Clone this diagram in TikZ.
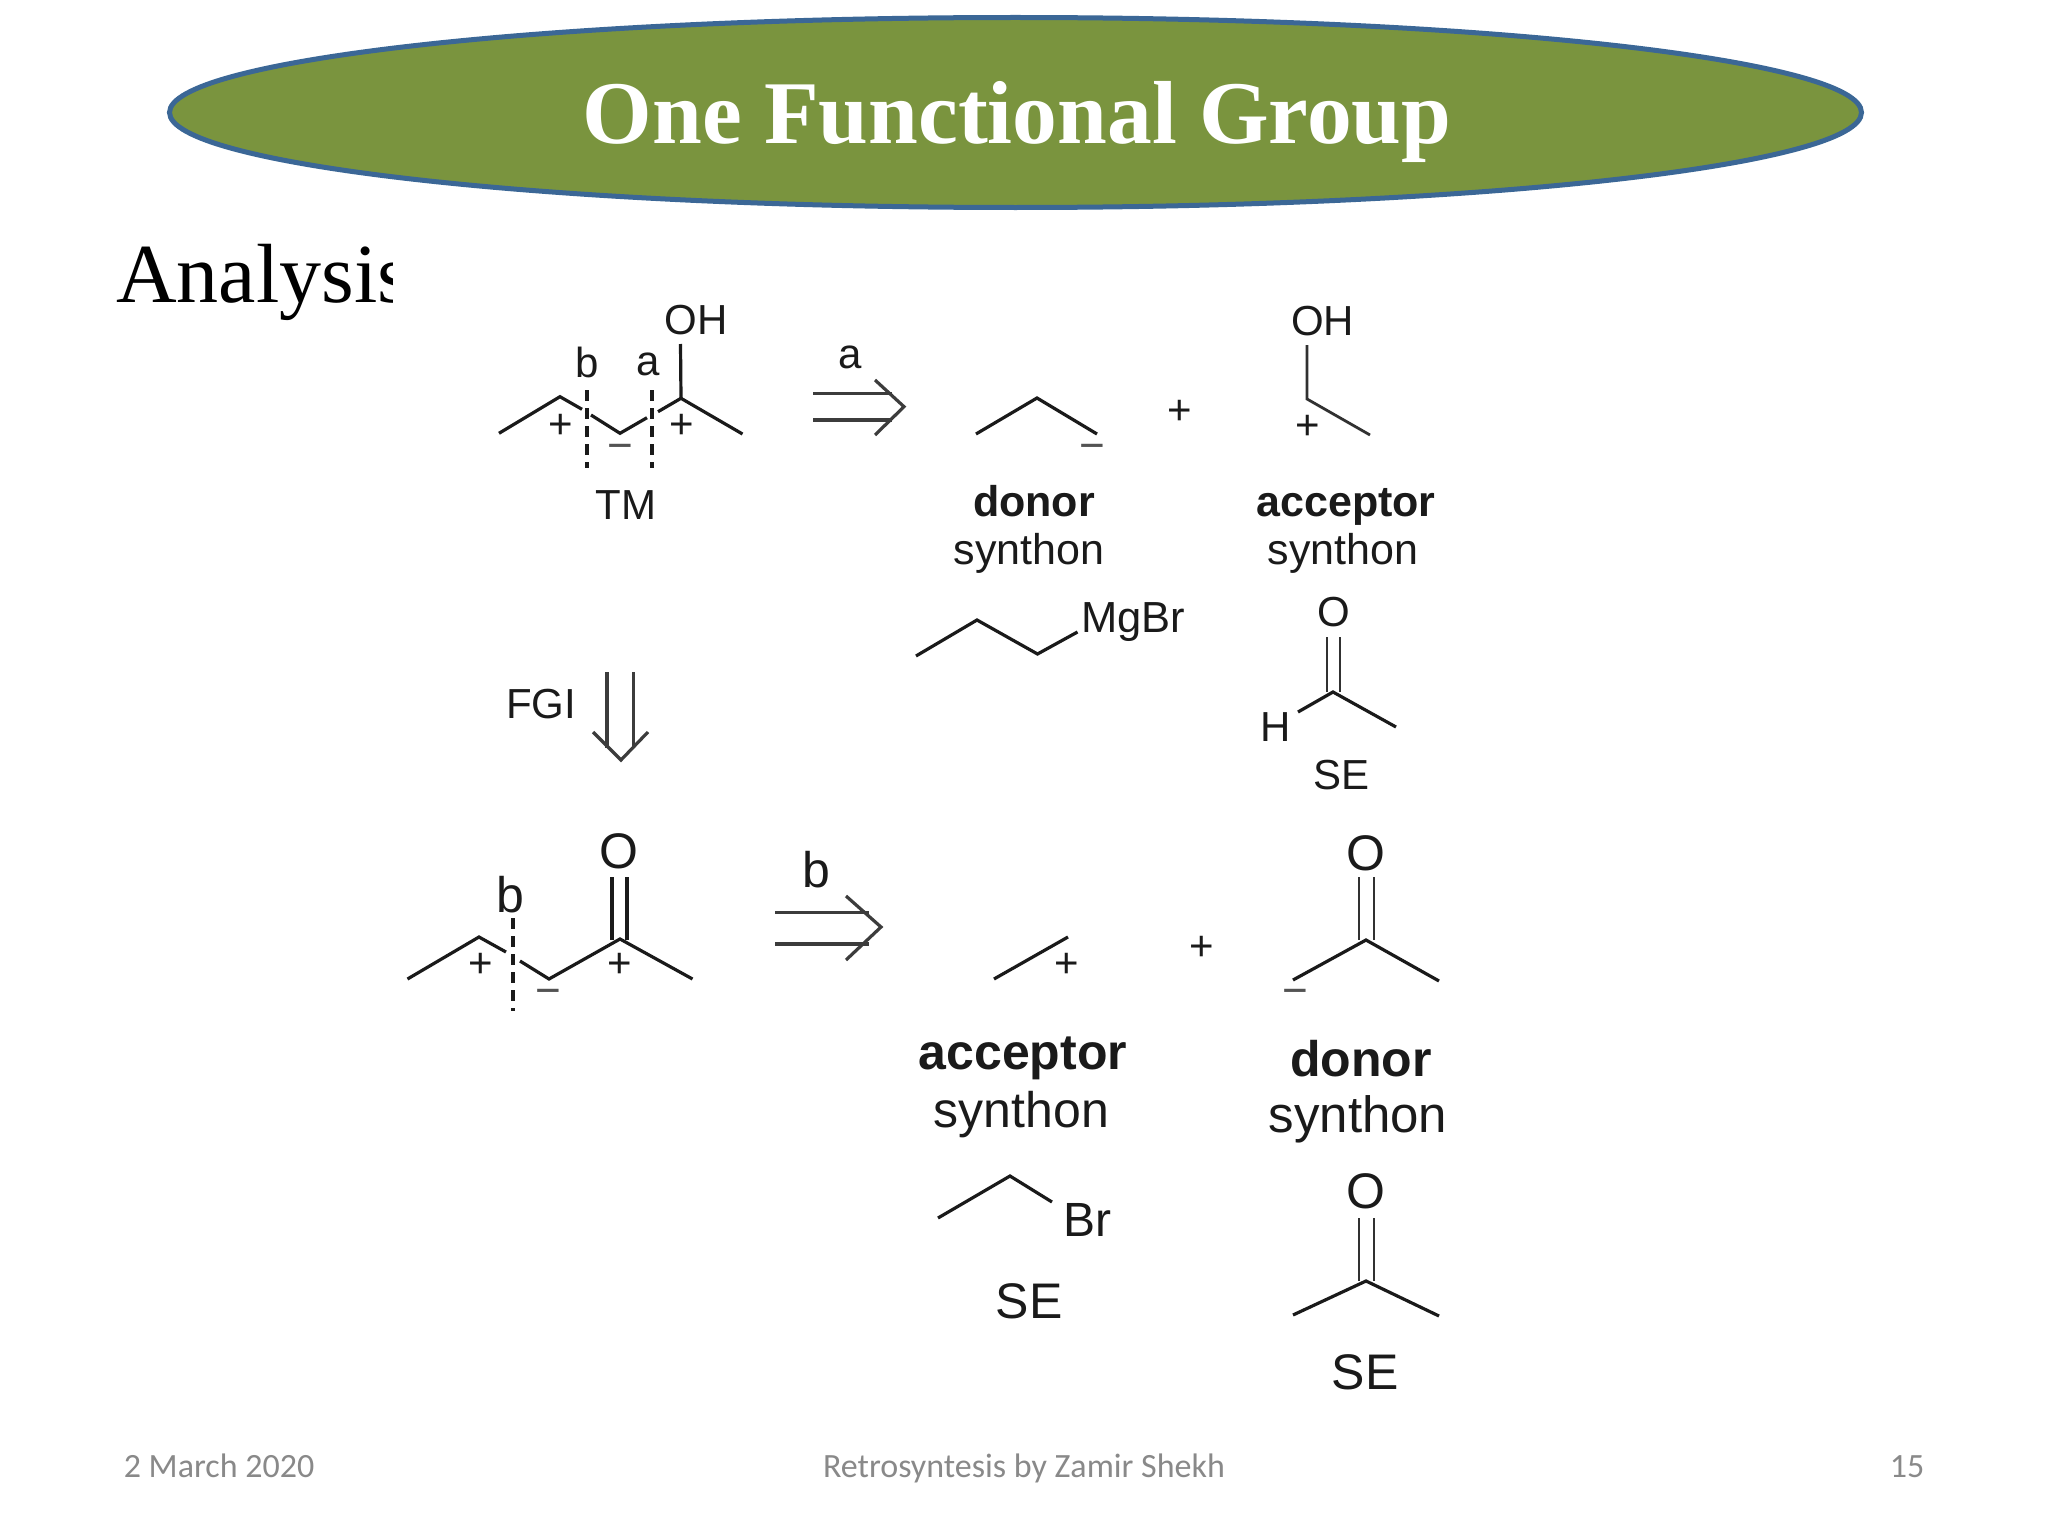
\documentclass[tikz,border=0pt]{standalone}
\usepackage{fontspec}
\usetikzlibrary{shapes.geometric}
\setmainfont{Liberation Serif}
\setsansfont{Liberation Sans}
\newfontfamily\footfont{Carlito}
\definecolor{olivefill}{HTML}{7A943E}
\definecolor{blueedge}{HTML}{3B6796}
\definecolor{footgray}{HTML}{898989}
\definecolor{ink}{HTML}{1A1A1A}
\newcommand{\fsz}[1]{\fontsize{#1}{#1}\selectfont}
\tikzset{
  bond/.style={draw=ink,line width=3.2pt,line cap=butt,line join=miter},
  thinbond/.style={draw=ink!90,line width=2.8pt},
  cut/.style={draw=ink,line width=3.4pt,dash pattern=on 11pt off 7pt},
  lab/.style={inner sep=0pt,text=ink,font=\sffamily\fsz{42}},
  big/.style={inner sep=0pt,text=ink,font=\sffamily\fsz{50}},
  chg/.style={inner sep=0pt,text=ink,font=\sffamily\fsz{42},xshift=1pt,yshift=-2pt},
  mns/.style={inner sep=0pt,text=ink!75,font=\sffamily\fsz{44},yshift=-5pt},
  boldlab/.style={inner sep=0pt,text=ink,font=\sffamily\bfseries\fsz{43}},
  boldbig/.style={inner sep=0pt,text=ink,font=\sffamily\bfseries\fsz{50}},
  foot/.style={inner sep=0pt,anchor=base,text=footgray,font=\footfont\fsz{34}},
  retro/.style={draw=ink!85,line width=3.2pt},
}
\begin{document}
\begin{tikzpicture}[x=1pt,y=-1pt]
\fill[white] (0,0) rectangle (2048,1536);
\useasboundingbox (0,0) rectangle (2048,1536);
% title
\node[ellipse,minimum width=1692pt,minimum height=190pt,draw=blueedge,line width=5pt,fill=olivefill,inner sep=0pt] (banner) at (1015.5,112.5) {};
\node[inner sep=0pt,text=white,font=\rmfamily\bfseries\fsz{89.5}] (title) at (1017,122) {One Functional Group};
% Analysis (cut off at its right end)
\begin{scope}
\clip (100,220) rectangle (392,330);
\node[inner sep=0pt,anchor=base west,text=black,font=\rmfamily\fsz{84}] (analysis) at (116,302) {Analysis};
\end{scope}
% TM
\draw[bond] (499,433.3) -- (560,396.7) -- (582,409.3);
\draw[bond] (591,415) -- (620,433.3) -- (647,417.7);
\draw[bond] (658,411.7) -- (681,398.3) -- (742.5,434);
\draw[bond] (680.5,344) -- (681,398.3);
\draw[cut] (587,390) -- (587,468);
\draw[cut] (652,390) -- (652,468);
\node[lab] (oh1) at (696,320) {OH};
\node[lab] (b1) at (587,362) {b};
\node[lab] (a1) at (648,364) {a};
\node[chg] (p1) at (560,424) {+};
\node[chg] (p2) at (681,424) {+};
\node[mns] (m1) at (620,447) {−};
\node[lab] (tm) at (626,505) {TM};
% arrow a
\draw[retro] (813,393.3) -- (892,393.3);
\draw[retro] (813,420) -- (892,420);
\draw[retro] (875,380) -- (904,406.7) -- (875,435);
\node[lab] (a2) at (850,357) {a};
% donor synthon top
\draw[bond] (976,434) -- (1037,398) -- (1097,434);
\node[mns] (m2) at (1092,447) {−};
\node[chg] (p3) at (1178.6,410) {+};
\draw[thinbond] (1307,345) -- (1307,399) -- (1370,435);
\node[lab] (oh2) at (1322.5,321) {OH};
\node[chg] (p4) at (1307,425) {+};
\node[boldlab] (don1) at (1034,501) {donor};
\node[inner sep=0pt,text=ink,font=\sffamily\fsz{43}] (syn1) at (1029,553.5) {synthon};
\node[boldlab] (acc1) at (1346,506.5) {acceptor};
\node[inner sep=0pt,text=ink,font=\sffamily\fsz{43}] (syn2) at (1343,553.5) {synthon};
% MgBr
\draw[bond] (916,656) -- (977,620) -- (1037.5,654) -- (1077.5,632);
\node[inner sep=0pt,text=ink,font=\sffamily\fsz{43.5},anchor=west] (mgbr) at (1081,622.5) {MgBr};
% aldehyde
\draw[thinbond] (1327,637) -- (1327,692);
\draw[thinbond] (1340,637) -- (1340,692);
\draw[bond] (1298,712) -- (1333,692) -- (1396,727);
\node[lab] (o1) at (1334,612) {O};
\node[lab] (h1) at (1276,727) {H};
\node[lab] (se1) at (1341,775) {SE};
% FGI
\node[lab] (fgi) at (541,704) {FGI};
\draw[retro] (607,672) -- (607,748);
\draw[retro] (633.6,672) -- (633.6,748);
\draw[retro] (593,732) -- (621,760) -- (648,732);
% ketone row
\draw[bond] (407.5,979) -- (479,937) -- (506,952);
\draw[bond] (520,961) -- (549,979) -- (620,939) -- (692.5,979);
\draw[bond] (612,877) -- (612,940);
\draw[bond] (627,877) -- (627,940);
\draw[cut] (513,918) -- (513,1011);
\node[big] (o2) at (619,851) {O};
\node[big] (b2) at (510.7,895) {b};
\node[chg] (p5) at (480,963) {+};
\node[chg] (p6) at (619,963) {+};
\node[mns] (m3) at (548.6,992) {−};
% arrow b
\draw[retro] (775,912.7) -- (869,912.7);
\draw[retro] (775,944) -- (869,944);
\draw[retro] (846,896) -- (881,927) -- (846,960);
\node[big] (b3) at (816.4,870) {b};
% acceptor bottom
\draw[bond] (994,979) -- (1068,937);
\node[chg] (p7) at (1066,963) {+};
\node[chg] (p8) at (1201,946) {+};
\draw[thinbond] (1359,877) -- (1359,940);
\draw[thinbond] (1374,877) -- (1374,940);
\draw[bond] (1293,980) -- (1366,940) -- (1439,981);
\node[big] (o3) at (1366,853) {O};
\node[mns] (m4) at (1295,992) {−};
\node[boldbig] (acc2) at (1023,1058) {acceptor};
\node[big] (syn3) at (1021.4,1114.5) {synthon};
\node[boldbig] (don2) at (1361,1059) {donor};
\node[inner sep=0pt,text=ink,font=\sffamily\fsz{51}] (syn4) at (1358,1119.5) {synthon};
% Br
\draw[bond] (938,1218) -- (1010,1176) -- (1052,1202);
\node[inner sep=0pt,text=ink,font=\sffamily\fsz{48}] (br) at (1087,1220) {Br};
\node[big] (se2) at (1029,1301) {SE};
% acetone
\draw[thinbond] (1359,1218) -- (1359,1281);
\draw[thinbond] (1374,1218) -- (1374,1281);
\draw[bond] (1293,1315) -- (1366,1281) -- (1439,1316);
\node[big] (o4) at (1366,1191) {O};
\node[big] (se3) at (1365,1372) {SE};
% footer
\node[foot] (date) at (219,1477) {2 March 2020};
\node[foot] (credit) at (1024,1477) {Retrosyntesis by Zamir Shekh};
\node[foot] (page) at (1907,1477) {15};
\end{tikzpicture}
\end{document}
